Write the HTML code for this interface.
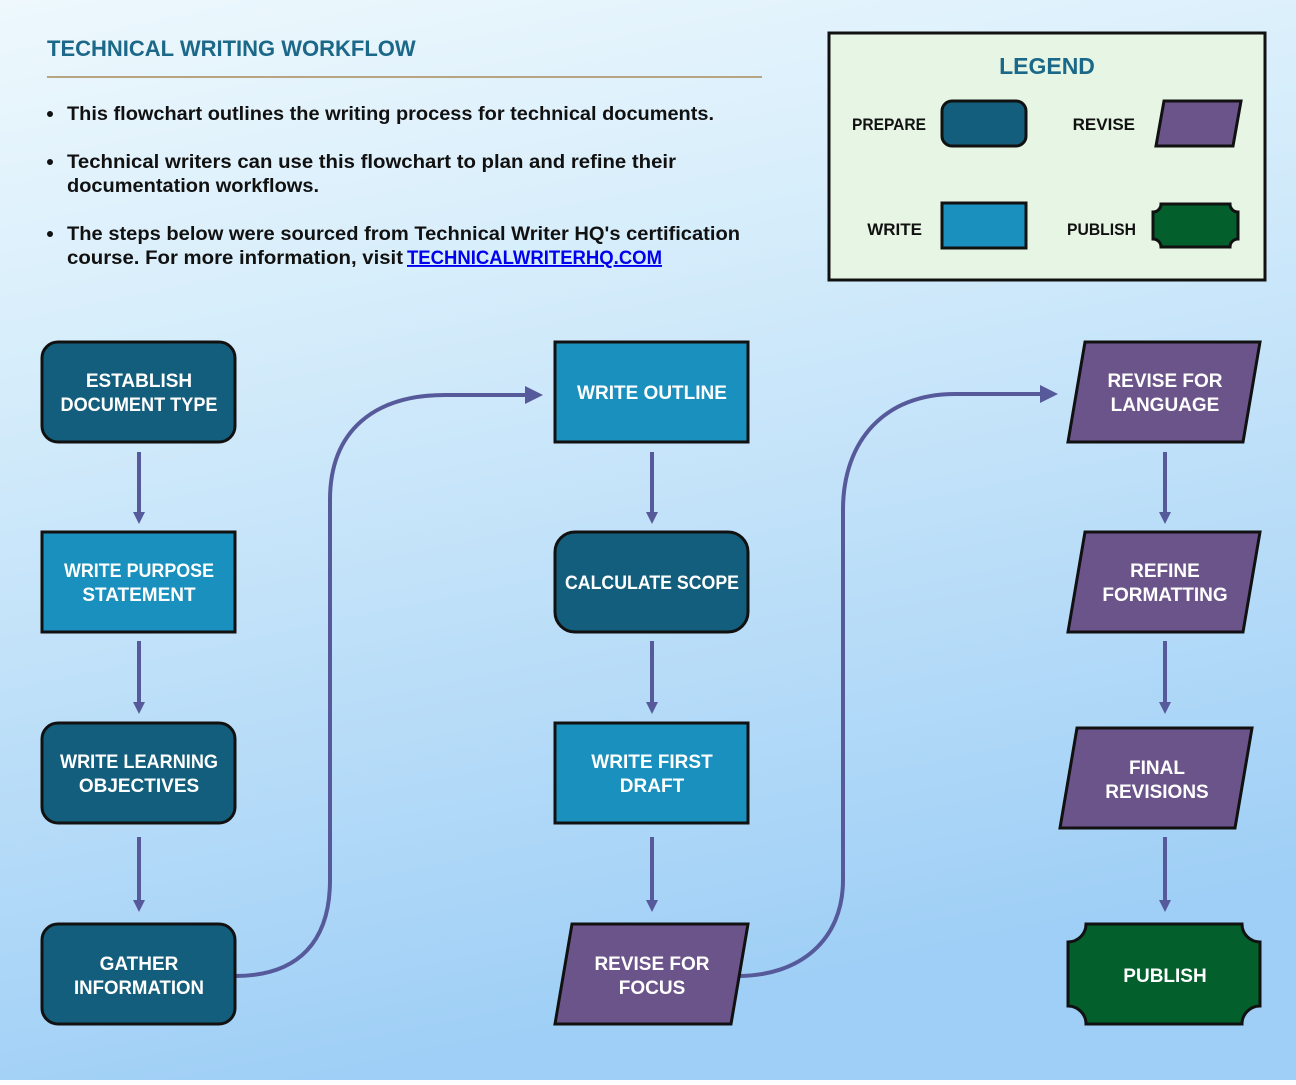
<!DOCTYPE html>
<html><head><meta charset="utf-8"><style>
html,body{margin:0;padding:0;}
body{width:1296px;height:1080px;overflow:hidden;font-family:"Liberation Sans",sans-serif;}
</style></head><body>
<svg width="1296" height="1080" viewBox="0 0 1296 1080" xmlns="http://www.w3.org/2000/svg" font-family="Liberation Sans, sans-serif">
<defs>
<linearGradient id="bg" x1="0" y1="0" x2="0.25" y2="1">
<stop offset="0" stop-color="#eef8fd"/><stop offset="0.3" stop-color="#d8eefb"/><stop offset="1" stop-color="#9fcff6"/>
</linearGradient>
<marker id="ah" markerWidth="12" markerHeight="12" refX="6" refY="6" orient="auto" markerUnits="userSpaceOnUse" viewBox="0 0 12 12">
<path d="M0,0 L12,6 L0,12 z" fill="#565a9a"/>
</marker>
<marker id="ah2" markerWidth="18" markerHeight="18" refX="10" refY="9" orient="auto" markerUnits="userSpaceOnUse" viewBox="0 0 18 18">
<path d="M0,0 L18,9 L0,18 z" fill="#565a9a"/>
</marker>
</defs>
<rect width="1296" height="1080" fill="url(#bg)"/>
<text x="47" y="56" font-size="22" font-weight="bold" fill="#1c6888">TECHNICAL WRITING WORKFLOW</text>
<line x1="47" y1="77" x2="762" y2="77" stroke="#a88a5a" stroke-width="1.5"/>
<g font-size="19" fill="#111" font-weight="bold">
<circle cx="50" cy="114" r="3" fill="#111"/>
<text x="67" y="120" textLength="647" lengthAdjust="spacingAndGlyphs">This flowchart outlines the writing process for technical documents.</text>
<circle cx="50" cy="162" r="3" fill="#111"/>
<text x="67" y="168" textLength="609" lengthAdjust="spacingAndGlyphs">Technical writers can use this flowchart to plan and refine their</text>
<text x="67" y="192" textLength="252" lengthAdjust="spacingAndGlyphs">documentation workflows.</text>
<circle cx="50" cy="234" r="3" fill="#111"/>
<text x="67" y="240" textLength="673" lengthAdjust="spacingAndGlyphs">The steps below were sourced from Technical Writer HQ's certification</text>
<text x="67" y="264" textLength="336" lengthAdjust="spacingAndGlyphs">course. For more information, visit</text>
<text x="407" y="264" textLength="255" lengthAdjust="spacingAndGlyphs" fill="#0000ee" text-decoration="underline">TECHNICALWRITERHQ.COM</text>
</g>
<!-- legend -->
<rect x="829" y="33" width="436" height="247" fill="#e6f5e4" stroke="#111" stroke-width="3"/>
<text x="1047" y="74" font-size="23" font-weight="bold" fill="#1c6888" text-anchor="middle">LEGEND</text>
<g font-size="17" font-weight="bold" fill="#111">
<text x="926" y="130" text-anchor="end" textLength="74" lengthAdjust="spacingAndGlyphs">PREPARE</text>
<text x="1135" y="130" text-anchor="end">REVISE</text>
<text x="922" y="235" text-anchor="end">WRITE</text>
<text x="1136" y="235" text-anchor="end" textLength="69" lengthAdjust="spacingAndGlyphs">PUBLISH</text>
</g>
<rect x="942" y="101" width="84" height="45" rx="10" fill="#135e7c" stroke="#111" stroke-width="3"/>
<path d="M1164,101 L1241,101 L1233,146 L1156,146 Z" fill="#6b548a" stroke="#111" stroke-width="3"/>
<rect x="942" y="203" width="84" height="45" fill="#1990bd" stroke="#111" stroke-width="3"/>
<path d="M1161,204 L1230,204 A8,8 0 0 0 1238,212 L1238,239 A8,8 0 0 0 1230,247 L1161,247 A8,8 0 0 0 1153,239 L1153,212 A8,8 0 0 0 1161,204 Z" fill="#035f2c" stroke="#111" stroke-width="3"/>
<!-- connectors -->
<g stroke="#565a9a" stroke-width="4" fill="none">
<line x1="139" y1="452" x2="139" y2="518" marker-end="url(#ah)"/>
<line x1="139" y1="641" x2="139" y2="708" marker-end="url(#ah)"/>
<line x1="139" y1="837" x2="139" y2="906" marker-end="url(#ah)"/>
<line x1="652" y1="452" x2="652" y2="518" marker-end="url(#ah)"/>
<line x1="652" y1="641" x2="652" y2="708" marker-end="url(#ah)"/>
<line x1="652" y1="837" x2="652" y2="906" marker-end="url(#ah)"/>
<line x1="1165" y1="452" x2="1165" y2="518" marker-end="url(#ah)"/>
<line x1="1165" y1="641" x2="1165" y2="708" marker-end="url(#ah)"/>
<line x1="1165" y1="837" x2="1165" y2="906" marker-end="url(#ah)"/>
<path d="M235,976 C300,976 330,940 330,880 L330,500 C330,430 375,395 445,395 L535,395" marker-end="url(#ah2)"/>
<path d="M738,976 C800,976 843,940 843,880 L843,510 C843,440 885,394 955,394 L1050,394" marker-end="url(#ah2)"/>
</g>
<!-- nodes -->
<g stroke="#111" stroke-width="3">
<rect x="42" y="342" width="193" height="100" rx="16" fill="#135e7c"/>
<rect x="42" y="532" width="193" height="100" fill="#1990bd"/>
<rect x="42" y="723" width="193" height="100" rx="16" fill="#135e7c"/>
<rect x="42" y="924" width="193" height="100" rx="16" fill="#135e7c"/>
<rect x="555" y="342" width="193" height="100" fill="#1990bd"/>
<rect x="555" y="532" width="193" height="100" rx="20" fill="#135e7c"/>
<rect x="555" y="723" width="193" height="100" fill="#1990bd"/>
<path d="M572,924 L748,924 L731,1024 L555,1024 Z" fill="#6b548a"/>
<path d="M1085,342 L1260,342 L1243,442 L1068,442 Z" fill="#6b548a"/>
<path d="M1085,532 L1260,532 L1243,632 L1068,632 Z" fill="#6b548a"/>
<path d="M1077,728 L1252,728 L1235,828 L1060,828 Z" fill="#6b548a"/>
<path d="M1086,924 L1242,924 A18,18 0 0 0 1260,942 L1260,1006 A18,18 0 0 0 1242,1024 L1086,1024 A18,18 0 0 0 1068,1006 L1068,942 A18,18 0 0 0 1086,924 Z" fill="#035f2c"/>
</g>
<g font-size="19" font-weight="bold" fill="#fff" text-anchor="middle">
<text x="139" y="387">ESTABLISH</text><text x="139" y="411" textLength="157" lengthAdjust="spacingAndGlyphs">DOCUMENT TYPE</text>
<text x="139" y="577" textLength="150" lengthAdjust="spacingAndGlyphs">WRITE PURPOSE</text><text x="139" y="601">STATEMENT</text>
<text x="139" y="768" textLength="158" lengthAdjust="spacingAndGlyphs">WRITE LEARNING</text><text x="139" y="792">OBJECTIVES</text>
<text x="139" y="970">GATHER</text><text x="139" y="994" textLength="130" lengthAdjust="spacingAndGlyphs">INFORMATION</text>
<text x="652" y="399">WRITE OUTLINE</text>
<text x="652" y="589" textLength="174" lengthAdjust="spacingAndGlyphs">CALCULATE SCOPE</text>
<text x="652" y="768">WRITE FIRST</text><text x="652" y="792">DRAFT</text>
<text x="652" y="970">REVISE FOR</text><text x="652" y="994">FOCUS</text>
<text x="1165" y="387">REVISE FOR</text><text x="1165" y="411">LANGUAGE</text>
<text x="1165" y="577">REFINE</text><text x="1165" y="601">FORMATTING</text>
<text x="1157" y="774">FINAL</text><text x="1157" y="798">REVISIONS</text>
<text x="1165" y="982">PUBLISH</text>
</g>
</svg>
</body></html>
